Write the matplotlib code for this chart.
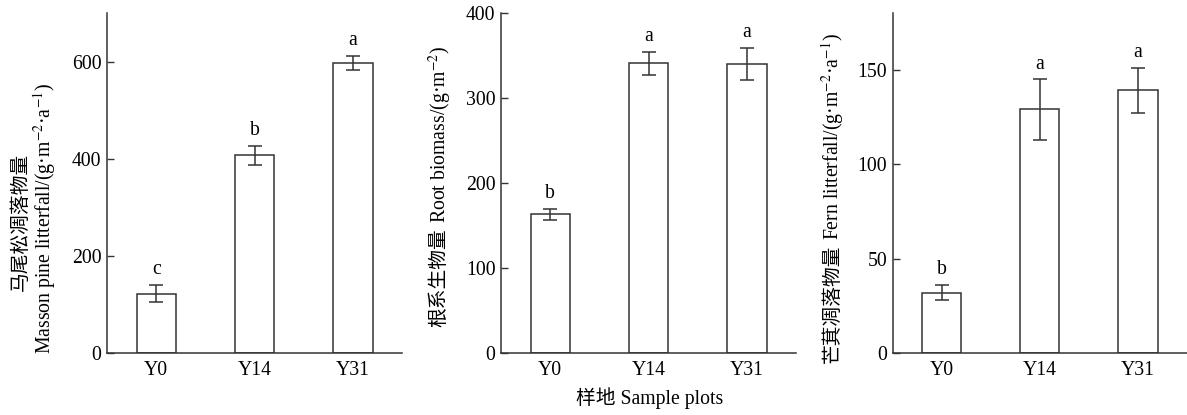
import matplotlib
matplotlib.use("Agg")
import matplotlib.pyplot as plt

plt.rcParams['font.family'] = ['Liberation Serif', 'Noto Sans CJK SC', 'DejaVu Sans']
plt.rcParams['mathtext.fontset'] = 'stix'

categories = ["Y0", "Y14", "Y31"]

pine_values = [122, 407, 597]
pine_errors = [18, 20, 15]
pine_letters = ["c", "b", "a"]

root_values = [163, 341, 340]
root_errors = [7, 13.5, 19]
root_letters = ["b", "a", "a"]

fern_values = [32, 129, 139]
fern_errors = [4, 16, 12]
fern_letters = ["b", "a", "a"]

pine_label_cn = "马尾松凋落物量"
pine_label_en = "Masson pine litterfall/(g·m$^{-2}$·a$^{-1}$)"
root_label_cn = "根系生物量"
root_label_en = "Root biomass/(g·m$^{-2}$)"
fern_label_cn = "芒萁凋落物量"
fern_label_en = "Fern litterfall/(g·m$^{-2}$·a$^{-1}$)"
xlabel_text = "样地 Sample plots"

panels = [
    dict(values=pine_values, errors=pine_errors, letters=pine_letters,
         ylim=700, ticks=[0, 200, 400, 600], left=107, right=402),
    dict(values=root_values, errors=root_errors, letters=root_letters,
         ylim=400, ticks=[0, 100, 200, 300, 400], left=501, right=796),
    dict(values=fern_values, errors=fern_errors, letters=fern_letters,
         ylim=180, ticks=[0, 50, 100, 150], left=892.7, right=1187),
]

W, H = 1187, 415
fig = plt.figure(figsize=(W / 100, H / 100), dpi=100)
lc = "#333333"
fs = 14.2

for p in panels:
    ax = fig.add_axes([p['left'] / W, (H - 353) / H, (p['right'] - p['left']) / W, 340 / H])
    x = list(range(len(categories)))
    ax.bar(x, p['values'], width=0.4, color="white", edgecolor=lc, linewidth=1.1, zorder=2)
    ax.errorbar(x, p['values'], yerr=p['errors'], fmt='none', ecolor=lc,
                elinewidth=1.1, capsize=4.7, capthick=1.1, zorder=3)
    for xi, v, e, l in zip(x, p['values'], p['errors'], p['letters']):
        ax.annotate(l, (xi, v + e), xytext=(0, 4), textcoords='offset points',
                    ha='center', va='bottom', fontsize=fs, color='black')
    ax.set_xlim(-0.5, 2.5)
    ax.set_ylim(0, p['ylim'])
    ax.set_yticks(p['ticks'])
    ax.set_xticks(x)
    ax.set_xticklabels(categories, fontsize=fs)
    ax.tick_params(axis='x', length=0, pad=6)
    ax.tick_params(axis='y', direction='in', length=5, width=1.0, color=lc,
                   labelsize=fs, pad=4)
    for s in ['top', 'right']:
        ax.spines[s].set_visible(False)
    for s in ['left', 'bottom']:
        ax.spines[s].set_color(lc)
        ax.spines[s].set_linewidth(1.1)


def fy(ypix):
    return (H - ypix) / H


# Panel 1: two separate lines
fig.text(21 / W, fy(222), pine_label_cn, rotation=90, ha='center', va='center', fontsize=fs)
fig.text(45 / W, fy(218), pine_label_en, rotation=90, ha='center', va='center', fontsize=fs)

# Panels 2 & 3: Chinese part at bottom, English part continuing upward
fig.canvas.draw()
renderer = fig.canvas.get_renderer()
for cn, en, xc, ybot in [(root_label_cn, root_label_en, 440, 327),
                         (fern_label_cn, fern_label_en, 833, 363)]:
    t1 = fig.text(xc / W, fy(ybot), cn, rotation=90, ha='center', va='bottom', fontsize=fs)
    bb = t1.get_window_extent(renderer)
    top_pix = bb.y1 + 5
    fig.text(xc / W, top_pix / H, en, rotation=90, ha='center', va='bottom', fontsize=fs)

fig.text(650 / W, fy(398), xlabel_text, ha='center', va='center', fontsize=fs)

fig.savefig("out.png", dpi=100)
